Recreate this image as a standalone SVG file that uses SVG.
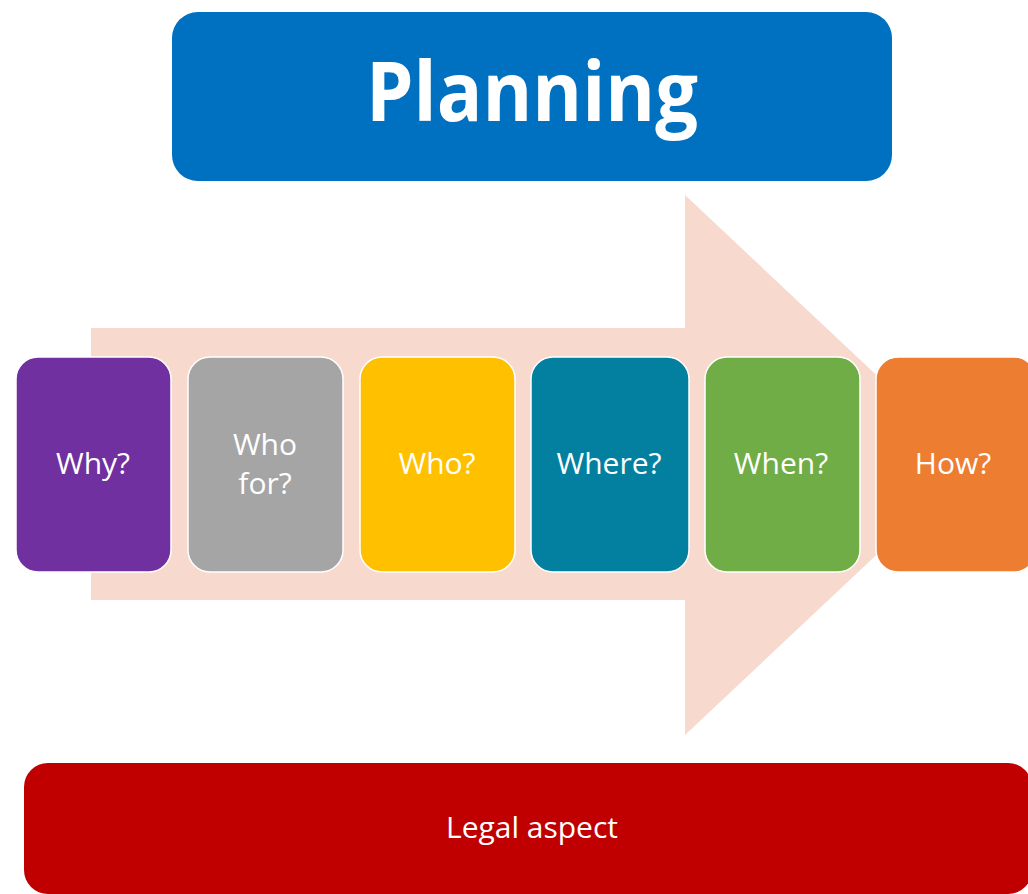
<svg xmlns="http://www.w3.org/2000/svg" width="1028" height="894" viewBox="0 0 1028 894">
<style>
.box{stroke:#ffffff;stroke-width:1.5}
.lbl{font-family:"Open Sans","Liberation Sans",sans-serif;font-size:30px;fill:#ffffff;text-anchor:middle}
</style>
<rect width="1028" height="894" fill="#ffffff"/>
<g id="arrow">
<polygon points="91,328 685,328 685,195 972,465 685,735 685,600 91,600" fill="#F7D9CE"/>
</g>
<g id="planning">
<rect x="172" y="12" width="720" height="169" rx="26" fill="#0070C0"/>
<text x="532" y="121" font-family="'Open Sans','Liberation Sans',sans-serif" font-weight="bold" font-size="82" fill="#ffffff" text-anchor="middle" textLength="332" lengthAdjust="spacingAndGlyphs">Planning</text>
</g>
<g id="why"><rect class="box" x="16" y="357" width="155" height="215" rx="22" fill="#7030A0"/><text class="lbl" x="93" y="474">Why?</text></g>
<g id="whofor"><rect class="box" x="188" y="357" width="155" height="215" rx="22" fill="#A5A5A5"/><text class="lbl" x="265" y="455">Who</text><text class="lbl" x="265" y="494">for?</text></g>
<g id="who"><rect class="box" x="360" y="357" width="155" height="215" rx="22" fill="#FFC000"/><text class="lbl" x="437" y="474">Who?</text></g>
<g id="where"><rect class="box" x="531" y="357" width="158" height="215" rx="22" fill="#03809F"/><text class="lbl" x="609" y="474">Where?</text></g>
<g id="when"><rect class="box" x="705" y="357" width="155" height="215" rx="22" fill="#70AD47"/><text class="lbl" x="781" y="474">When?</text></g>
<g id="how"><rect class="box" x="876" y="357" width="160" height="215" rx="22" fill="#ED7D31"/><text class="lbl" x="953" y="474">How?</text></g>
<g id="legal">
<rect x="24" y="763" width="1008" height="131" rx="24" fill="#C00000"/>
<text class="lbl" x="532" y="838">Legal aspect</text>
</g>
<g id="connectors"></g>
</svg>
